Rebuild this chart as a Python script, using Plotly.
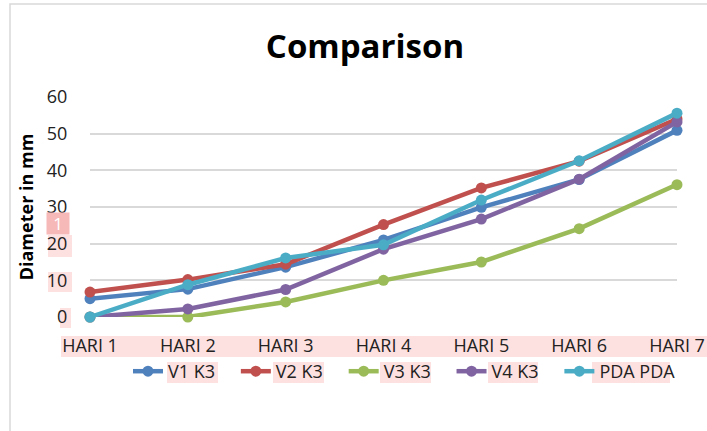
import plotly.graph_objects as go

categories = ["HARI 1", "HARI 2", "HARI 3", "HARI 4", "HARI 5", "HARI 6", "HARI 7"]
v1_k3 = [5.0, 7.6, 13.6, 21.0, 29.9, 37.5, 50.9]
v2_k3 = [6.8, 10.2, 14.4, 25.2, 35.2, 42.5, 54.0]
v3_k3 = [0.0, 0.0, 4.1, 10.0, 15.0, 24.1, 36.1]
v4_k3 = [0.0, 2.2, 7.5, 18.5, 26.7, 37.6, 53.2]
pda_pda = [0.0, 8.8, 16.1, 19.7, 31.9, 42.6, 55.6]

series = [
    ("V1 K3", v1_k3, "#4F81BD"),
    ("V2 K3", v2_k3, "#C0504D"),
    ("V3 K3", v3_k3, "#9BBB59"),
    ("V4 K3", v4_k3, "#8064A2"),
    ("PDA PDA", pda_pda, "#4BACC6"),
]

W, H = 707, 431
L, R, T, B = 90, 30, 97, 114
PW, PH = W - L - R, H - T - B

def px(x):
    return (x - L) / PW

def py(y):
    return (H - B - y) / PH

# trailing padding (non-breaking + hair space) to space legend entries like the original
PAD = "\u00a0\u00a0\u00a0\u200a"

fig = go.Figure()
for i, (name, vals, color) in enumerate(series):
    label = name + (PAD if i < len(series) - 1 else "")
    fig.add_trace(go.Scatter(
        x=categories, y=vals, name=label, mode="lines+markers",
        line=dict(color=color, width=4.5),
        marker=dict(color=color, size=11),
        cliponaxis=False,
    ))

pink = "#FDE0E0"
shapes = []
# chart border
shapes.append(dict(type="rect", xref="paper", yref="paper",
                   x0=px(10), x1=px(730), y0=py(450), y1=py(4),
                   line=dict(color="#D9D9D9", width=1.5), fillcolor="rgba(0,0,0,0)", layer="below"))
# pink highlights
for (x0, x1, y0, y1) in [(60, 71, 308, 328), (48, 72, 272, 292), (48, 72, 235, 257),
                         (61, 707, 336, 357),
                         (167, 218, 362, 383), (273, 324, 362, 383), (380, 431, 362, 383),
                         (488, 538, 362, 383), (592, 670, 362, 383)]:
    shapes.append(dict(type="rect", xref="paper", yref="paper",
                       x0=px(x0), x1=px(x1), y0=py(y1), y1=py(y0),
                       line=dict(width=0), fillcolor=pink, layer="below"))

annotations = [
    dict(text="1", xref="paper", yref="paper", x=px(58), y=py(223),
         xanchor="center", yanchor="middle", showarrow=False,
         font=dict(family="Open Sans", size=17, color="white"),
         bgcolor="#F7B8B8", width=20, height=19),
]

fig.update_layout(
    width=W, height=H,
    margin=dict(l=L, r=R, t=T, b=B, autoexpand=False),
    paper_bgcolor="white", plot_bgcolor="white",
    title=dict(text="<b>Comparison</b>", xref="container", x=365 / W, xanchor="center",
               yref="container", y=1 - 46 / H, yanchor="middle",
               font=dict(family="Open Sans", size=33, color="black")),
    font=dict(family="Open Sans", size=18, color="#222222"),
    showlegend=True,
    legend=dict(orientation="h", x=px(128), xanchor="left", y=py(353), yanchor="top",
                font=dict(family="Open Sans", size=18, color="#222222"),
                bgcolor="rgba(0,0,0,0)"),
    shapes=shapes,
    annotations=annotations,
)
fig.update_xaxes(showgrid=False, showline=False, zeroline=False,
                 ticks="outside", ticklen=12, tickcolor="rgba(0,0,0,0)",
                 range=[0, 6], tickfont=dict(size=18), automargin=False)
fig.update_yaxes(range=[0, 60], dtick=10, showgrid=True, gridcolor="#D9D9D9", gridwidth=1.5,
                 zeroline=False, showline=False,
                 ticks="outside", ticklen=18, tickcolor="rgba(0,0,0,0)",
                 tickfont=dict(size=18), automargin=False,
                 title=dict(text="<b>Diameter in mm</b>", standoff=8,
                            font=dict(family="Open Sans", size=18, color="black")))

fig.write_html("out.html", config={"displayModeBar": False},
               post_script="document.body.style.margin='0';document.body.style.overflow='hidden';")
